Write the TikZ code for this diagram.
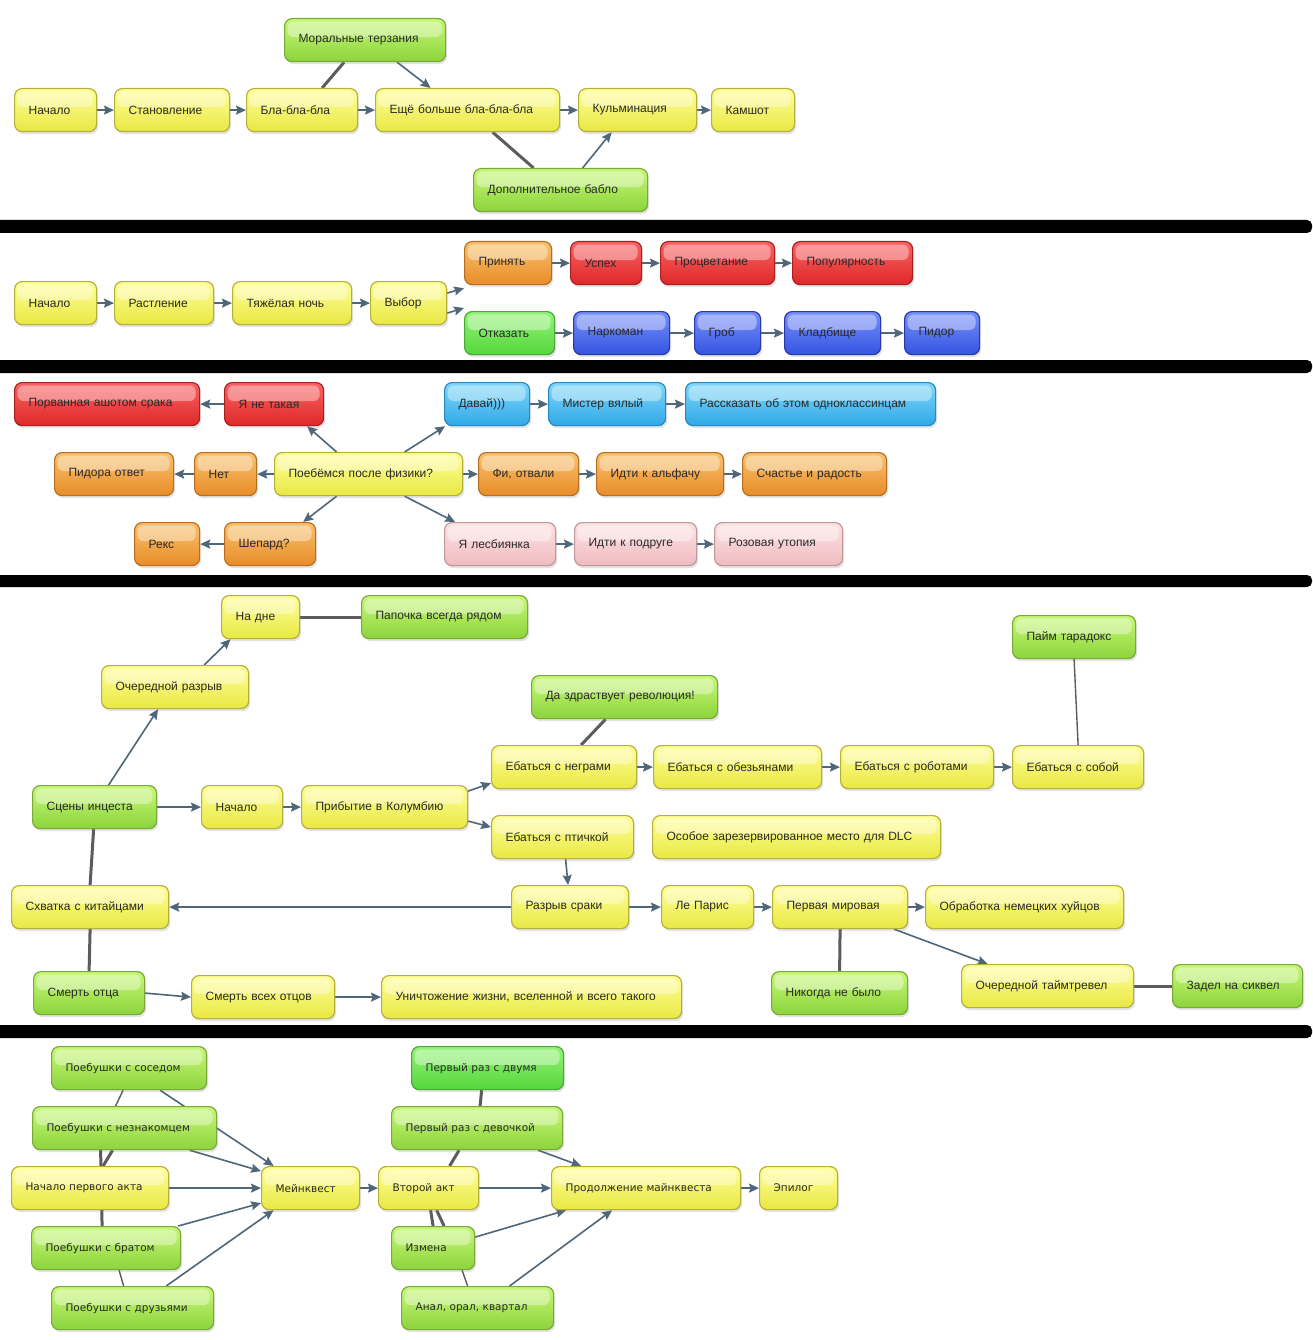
\documentclass[tikz,border=0pt]{standalone}
\usepackage{fontspec}
\setmainfont{Liberation Sans}
\newfontfamily\dvfont{DejaVu Sans}
\usetikzlibrary{arrows.meta,shadows,calc}
\pgfdeclarelayer{bgzero}
\pgfdeclarelayer{background}
\pgfsetlayers{bgzero,background,main}
\definecolor{arrc}{HTML}{4F6779}
\definecolor{linkc}{HTML}{5C5C5C}
\definecolor{txtc}{HTML}{2A2A2A}
\definecolor{yelT}{HTML}{FFFF9A}\definecolor{yelB}{HTML}{E8E844}\definecolor{yelD}{HTML}{B6AF3C}
\definecolor{grnT}{HTML}{C8F878}\definecolor{grnB}{HTML}{8CD43C}\definecolor{grnD}{HTML}{7AA83A}
\definecolor{bgrT}{HTML}{96F478}\definecolor{bgrB}{HTML}{54D63C}\definecolor{bgrD}{HTML}{48A838}
\definecolor{orgT}{HTML}{FAC26E}\definecolor{orgB}{HTML}{E88C28}\definecolor{orgD}{HTML}{B86E22}
\definecolor{redT}{HTML}{FA6464}\definecolor{redB}{HTML}{DE2828}\definecolor{redD}{HTML}{AA2020}
\definecolor{bluT}{HTML}{7890FA}\definecolor{bluB}{HTML}{3454E0}\definecolor{bluD}{HTML}{2838A8}
\definecolor{cyaT}{HTML}{80D8FA}\definecolor{cyaB}{HTML}{30A8E8}\definecolor{cyaD}{HTML}{2888C0}
\definecolor{pnkT}{HTML}{FDE2E4}\definecolor{pnkB}{HTML}{F0BCC0}\definecolor{pnkD}{HTML}{C0979B}
\tikzset{
  box/.style={draw, rounded corners=7.5pt, line width=1.2pt, minimum height=43pt,
    inner xsep=14pt, inner ysep=0pt, align=left, anchor=north west,
    text=txtc, font=\fontsize{12}{14}\selectfont,
    drop shadow={shadow xshift=1.5pt, shadow yshift=-2.5pt, opacity=0.22},
    path picture={\fill[white, opacity=0.38, rounded corners=6pt]
      ([xshift=3pt,yshift=-3pt]path picture bounding box.north west) rectangle
      ([xshift=-4pt,yshift=3pt]path picture bounding box.east);}},
  yel/.style={box, top color=yelT, bottom color=yelB, draw=yelD},
  grn/.style={box, top color=grnT, bottom color=grnB, draw=grnD},
  bgrn/.style={box, top color=bgrT, bottom color=bgrB, draw=bgrD},
  org/.style={box, top color=orgT, bottom color=orgB, draw=orgD},
  red/.style={box, top color=redT, bottom color=redB, draw=redD},
  blu/.style={box, top color=bluT, bottom color=bluB, draw=bluD},
  cya/.style={box, top color=cyaT, bottom color=cyaB, draw=cyaD},
  pnk/.style={box, top color=pnkT, bottom color=pnkB, draw=pnkD},
  arr/.style={draw=arrc, line width=1.6pt, -{Stealth[length=10pt,width=9pt,inset=1.5pt]}},
  lnk/.style={draw=linkc, line width=3pt},
  lnkthin/.style={draw=linkc, line width=1.4pt},
  sfive/.style={font=\dvfont\fontsize{10.5}{13}\selectfont}
}
\newcommand\bx[6]{%
  \pgfmathsetmacro\tw{#5-#3-28}%
  \node[#2, text width=\tw pt] (#1) at (#3,#4) {#6};}
\begin{document}
\begin{tikzpicture}[x=1pt,y=-1pt]
\begin{pgfonlayer}{bgzero}
\fill[white] (0,0) rectangle (1313,1340);
\end{pgfonlayer}
\useasboundingbox (0,0) rectangle (1313,1340);
% separator bars
\fill[black, rounded corners=5pt] (-8,220) rectangle (1312,233);
\fill[black, rounded corners=5pt] (-8,360) rectangle (1312,373);
\fill[black, rounded corners=5pt] (-8,575) rectangle (1312,587);
\fill[black, rounded corners=5pt] (-8,1025) rectangle (1312,1038);

% ---------- section 1
\bx{m1}{grn}{284}{18}{445}{Моральные терзания}
\bx{a1}{yel}{14}{88}{96}{Начало}
\bx{a2}{yel}{114}{88}{229}{Становление}
\bx{a3}{yel}{246}{88}{357}{Бла-бла-бла}
\bx{a4}{yel}{375}{88}{559}{Ещё больше бла-бла-бла}
\bx{a5}{yel}{578}{88}{696}{Кульминация}
\bx{a6}{yel}{711}{88}{794}{Камшот}
\bx{d1}{grn}{473}{168}{647}{Дополнительное бабло}

% ---------- section 2
\bx{b1}{yel}{14}{281}{96}{Начало}
\bx{b2}{yel}{114}{281}{213}{Растление}
\bx{b3}{yel}{232}{281}{351}{Тяжёлая ночь}
\bx{b4}{yel}{370}{281}{446}{Выбор}
\bx{b5}{org}{464}{241}{551}{Принять}
\bx{b6}{red}{570}{241}{641}{Успех}
\bx{b7}{red}{660}{241}{774}{Процветание}
\bx{b8}{red}{792}{241}{912}{Популярность}
\bx{c5}{bgrn}{464}{311}{554}{Отказать}
\bx{c6}{blu}{573}{311}{669}{Наркоман}
\bx{c7}{blu}{694}{311}{760}{Гроб}
\bx{c8}{blu}{784}{311}{880}{Кладбище}
\bx{c9}{blu}{904}{311}{979}{Пидор}

% ---------- section 3
\bx{e1}{red}{14}{382}{199}{Порванная ашотом срака}
\bx{e2}{red}{224}{382}{323}{Я не такая}
\bx{e3}{cya}{444}{382}{529}{Давай)))}
\bx{e4}{cya}{548}{382}{665}{Мистер вялый}
\bx{e5}{cya}{685}{382}{935}{Рассказать об этом одноклассинцам}
\bx{f1}{org}{54}{452}{173}{Пидора ответ}
\bx{f2}{org}{194}{452}{256}{Нет}
\bx{f3}{yel}{274}{452}{462}{Поебёмся после физики?}
\bx{f4}{org}{478}{452}{578}{Фи, отвали}
\bx{f5}{org}{596}{452}{723}{Идти к альфачу}
\bx{f6}{org}{742}{452}{886}{Счастье и радость}
\bx{g1}{org}{134}{522}{199}{Рекс}
\bx{g2}{org}{224}{522}{315}{Шепард?}
\bx{g3}{pnk}{444}{522}{555}{Я лесбиянка}
\bx{g4}{pnk}{574}{522}{696}{Идти к подруге}
\bx{g5}{pnk}{714}{522}{842}{Розовая утопия}

% ---------- section 4
\bx{h1}{yel}{221}{595}{299}{На дне}
\bx{h2}{grn}{361}{595}{527}{Папочка всегда рядом}
\bx{h3}{yel}{101}{665}{248}{Очередной разрыв}
\bx{h4}{grn}{531}{675}{717}{Да здраствует революция!}
\bx{h5}{grn}{1012}{615}{1135}{Пайм тарадокс}
\bx{i1}{grn}{32}{785}{156}{Сцены инцеста}
\bx{i2}{yel}{201}{785}{282}{Начало}
\bx{i3}{yel}{301}{785}{467}{Прибытие в Колумбию}
\bx{j1}{yel}{491}{745}{636}{Ебаться с неграми}
\bx{j2}{yel}{653}{745}{821}{Ебаться с обезьянами}
\bx{j3}{yel}{840}{745}{993}{Ебаться с роботами}
\bx{j4}{yel}{1012}{745}{1143}{Ебаться с собой}
\bx{k1}{yel}{491}{815}{633}{Ебаться с птичкой}
\bx{k2}{yel}{652}{815}{940}{Особое зарезервированное место для DLC}
\bx{l1}{yel}{11}{885}{168}{Схватка с китайцами}
\bx{l2}{yel}{511}{885}{628}{Разрыв сраки}
\bx{l3}{yel}{661}{885}{753}{Ле Парис}
\bx{l4}{yel}{772}{885}{907}{Первая мировая}
\bx{l5}{yel}{925}{885}{1123}{Обработка немецких хуйцов}
\bx{n1}{grn}{33}{971}{144}{Смерть отца}
\bx{n2}{yel}{191}{975}{334}{Смерть всех отцов}
\bx{n3}{yel}{381}{975}{681}{Уничтожение жизни, вселенной и всего такого}
\bx{n4}{grn}{771}{971}{907}{Никогда не было}
\bx{n5}{yel}{961}{964}{1133}{Очередной таймтревел}
\bx{n6}{grn}{1172}{964}{1302}{Задел на сиквел}

% ---------- section 5
\bx{p1}{grn,sfive}{51}{1046}{206}{Поебушки с соседом}
\bx{p2}{grn,sfive}{32}{1106}{216}{Поебушки с незнакомцем}
\bx{p3}{yel,sfive}{11}{1166}{168}{Начало первого акта}
\bx{p4}{grn,sfive}{31}{1226}{180}{Поебушки с братом}
\bx{p5}{grn,sfive}{51}{1286}{213}{Поебушки с друзьями}
\bx{q1}{yel,sfive}{261}{1166}{359}{Мейнквест}
\bx{q2}{yel,sfive}{378}{1166}{478}{Второй акт}
\bx{q3}{yel,sfive}{551}{1166}{740}{Продолжение майнквеста}
\bx{q4}{yel,sfive}{759}{1166}{837}{Эпилог}
\bx{r1}{bgrn,sfive}{411}{1046}{563}{Первый раз с двумя}
\bx{r2}{grn,sfive}{391}{1106}{562}{Первый раз с девочкой}
\bx{r3}{grn,sfive}{391}{1226}{474}{Измена}
\bx{r4}{grn,sfive}{401}{1286}{553}{Анал, орал, квартал}

\begin{pgfonlayer}{background}
% section 1
\draw[arr] (a1.east) -- (a2.west);
\draw[arr] (a2.east) -- (a3.west);
\draw[arr] (a3.east) -- (a4.west);
\draw[arr] (a4.east) -- (a5.west);
\draw[arr] (a5.east) -- (a6.west);
\draw[lnk] ([xshift=-21pt]m1.south) -- ([xshift=20pt]a3.north);
\draw[arr] ([xshift=32pt]m1.south) -- ([xshift=-37pt]a4.north);
\draw[lnk] ([xshift=25pt]a4.south) -- ([xshift=-27pt]d1.north);
\draw[arr] ([xshift=22pt]d1.north) -- ([xshift=-26pt]a5.south);
% section 2
\draw[arr] (b1.east) -- (b2.west);
\draw[arr] (b2.east) -- (b3.west);
\draw[arr] (b3.east) -- (b4.west);
\draw[arr] ([yshift=10pt]b4.east) -- ([yshift=-3pt]b5.south west);
\draw[arr] ([yshift=-10pt]b4.east) -- ([yshift=3pt]c5.north west);
\draw[arr] (b5.east) -- (b6.west);
\draw[arr] (b6.east) -- (b7.west);
\draw[arr] (b7.east) -- (b8.west);
\draw[arr] (c5.east) -- (c6.west);
\draw[arr] (c6.east) -- (c7.west);
\draw[arr] (c7.east) -- (c8.west);
\draw[arr] (c8.east) -- (c9.west);
% section 3
\draw[arr] (e2.west) -- (e1.east);
\draw[arr] ([xshift=-32pt]f3.north) -- ([xshift=33pt]e2.south);
\draw[arr] ([xshift=36pt]f3.north) -- ([xshift=-42pt]e3.south);
\draw[arr] (e3.east) -- (e4.west);
\draw[arr] (e4.east) -- (e5.west);
\draw[arr] (f3.west) -- (f2.east);
\draw[arr] (f2.west) -- (f1.east);
\draw[arr] (f3.east) -- (f4.west);
\draw[arr] (f4.east) -- (f5.west);
\draw[arr] (f5.east) -- (f6.west);
\draw[arr] ([xshift=-32pt]f3.south) -- ([xshift=33pt]g2.north);
\draw[arr] (g2.west) -- (g1.east);
\draw[arr] ([xshift=36pt]f3.south) -- ([xshift=-45pt]g3.north);
\draw[arr] (g3.east) -- (g4.west);
\draw[arr] (g4.east) -- (g5.west);
% section 4
\draw[arr] ([xshift=14pt]i1.north) -- ([xshift=-17pt]h3.south);
\draw[arr] ([xshift=29pt]h3.north) -- ([xshift=-30pt]h1.south);
\draw[lnk] (h1.east) -- (h2.west);
\draw[arr] (i1.east) -- (i2.west);
\draw[arr] (i2.east) -- (i3.west);
\draw[arr] ([yshift=16pt]i3.east) -- ([yshift=-16pt]j1.west);
\draw[arr] ([yshift=-14pt]i3.east) -- ([yshift=10pt]k1.west);
\draw[lnk] ([xshift=-19pt]h4.south) -- ([xshift=17pt]j1.north);
\draw[lnkthin] (h5.south) -- (j4.north);
\draw[arr] (j1.east) -- (j2.west);
\draw[arr] (j2.east) -- (j3.west);
\draw[arr] (j3.east) -- (j4.west);
\draw[arr] ([xshift=3pt]k1.south) -- ([xshift=-2pt]l2.north);
\draw[arr] (l2.west) -- (l1.east);
\draw[arr] (l2.east) -- (l3.west);
\draw[arr] (l3.east) -- (l4.west);
\draw[arr] (l4.east) -- (l5.west);
\draw[lnk] (l4.south) -- (n4.north);
\draw[arr] ([xshift=54pt]l4.south) -- ([xshift=-60pt]n5.north);
\draw[lnk] (n5.east) -- (n6.west);
\draw[lnk] ([xshift=-1pt]i1.south) -- (l1.north);
\draw[lnk] (l1.south) -- (n1.north);
\draw[arr] (n1.east) -- (n2.west);
\draw[arr] (n2.east) -- (n3.west);
% section 5
\draw[arr] ([xshift=31pt]p1.south) -- ([xshift=-37pt]q1.north);
\draw[arr] ([xshift=65pt]p2.south) -- ([yshift=17pt]q1.west);
\draw[arr] (p3.east) -- (q1.west);
\draw[arr] ([xshift=-3pt]p4.north east) -- ([yshift=-15pt]q1.west);
\draw[arr] ([xshift=-48pt]p5.north east) -- ([xshift=-37pt]q1.south);
\draw[lnkthin] ([xshift=-6pt]p1.south) -- ([xshift=-9pt]p2.north);
\draw[lnk] ([xshift=-12pt]p2.south) -- ([xshift=13pt]p3.north);
\draw[lnk] ([xshift=-24pt]p2.south) -- ([xshift=-4pt]p4.north);
\draw[lnkthin] ([xshift=13pt]p4.south) -- ([xshift=-9pt]p5.north);
\draw[arr] (q1.east) -- (q2.west);
\draw[arr] (q2.east) -- (q3.west);
\draw[arr] (q3.east) -- (q4.west);
\draw[lnk] ([xshift=-6pt]r1.south) -- ([xshift=3pt]r2.north);
\draw[lnk] ([xshift=-18pt]r2.south) -- ([xshift=21pt]q2.north);
\draw[lnk] ([xshift=2pt]q2.south) -- (r3.north);
\draw[lnk] ([xshift=8pt]q2.south) -- ([xshift=11pt]r3.north);
\draw[lnkthin] ([xshift=29pt]r3.south) -- ([xshift=-10pt]r4.north);
\draw[arr] ([xshift=61pt]r2.south) -- ([xshift=-65pt]q3.north);
\draw[arr] ([yshift=11pt]r3.east) -- ([xshift=-80pt]q3.south);
\draw[arr] ([xshift=32pt]r4.north) -- ([xshift=-34pt]q3.south);
\end{pgfonlayer}
\end{tikzpicture}
\end{document}
